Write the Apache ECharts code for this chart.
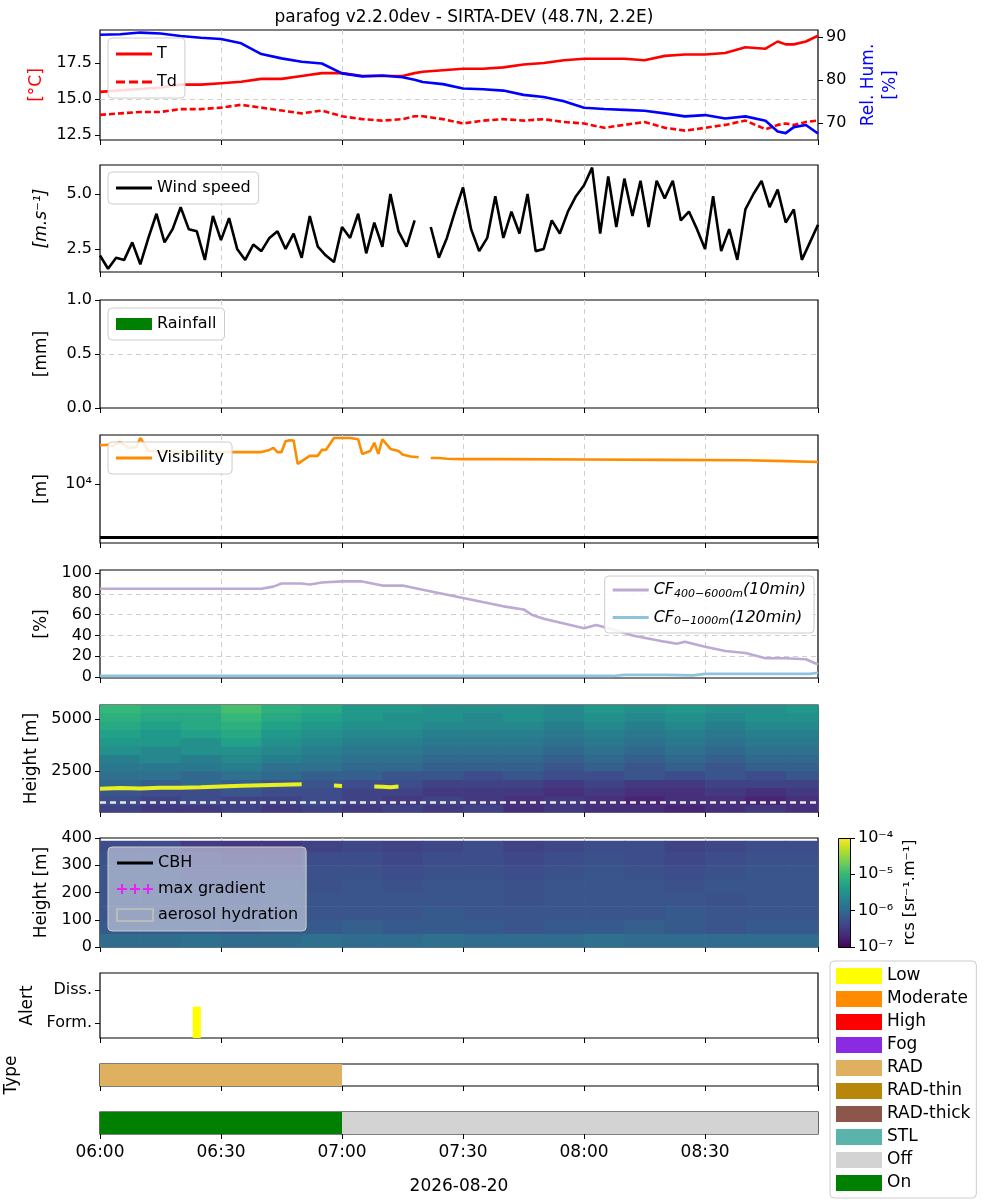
<!DOCTYPE html>
<html><head><meta charset="utf-8">
<script src="https://cdn.jsdelivr.net/npm/echarts@6/dist/echarts.min.js"></script>
<style>html,body{margin:0;padding:0;background:#fff}#c{width:1000px;height:1200px}</style>
</head><body><div id="c"></div>
<script>
// ---------- DATA (minutes after 06:00) ----------
const xTickLabels = ['06:00','06:30','07:00','07:30','08:00','08:30'];
const tTemp = [0,5,10,15,20,25,30,35,40,45,50,55,60,65,70,75,78,80,85,90,95,100,105,110,115,120,125,130,135,140,145,150,155,160,165,168,170,172,175,178];
const T  = [15.5,15.6,15.7,15.8,16.0,16.0,16.1,16.2,16.4,16.4,16.6,16.8,16.8,16.6,16.6,16.6,16.8,16.9,17.0,17.1,17.1,17.2,17.4,17.5,17.7,17.8,17.8,17.8,17.7,18.0,18.1,18.1,18.2,18.6,18.5,19.0,18.8,18.8,19.0,19.4];
const Td = [13.9,14.0,14.1,14.1,14.3,14.3,14.4,14.6,14.4,14.2,14.0,14.2,13.8,13.6,13.5,13.6,13.8,13.8,13.6,13.3,13.5,13.6,13.5,13.6,13.4,13.3,13.0,13.2,13.4,13.0,12.8,13.0,13.2,13.5,12.9,13.2,13.3,13.2,13.4,13.5];
const RH = [90.5,90.6,91.0,90.8,90.2,89.8,89.5,88.5,86.0,85.0,84.2,83.8,81.5,80.8,81.0,80.6,80.0,79.5,79.0,78.0,77.8,77.5,76.5,76.0,75.0,73.5,73.2,73.0,72.8,72.2,71.5,71.8,71.0,71.5,70.5,68.0,67.6,69.0,69.5,67.5];
const tWind = [0,2,4,6,8,10,12,14,16,18,20,22,24,26,28,30,32,34,36,38,40,42,44,46,48,50,52,54,56,58,60,62,64,66,68,70,72,74,76,78,80,82,84,86,88,90,92,94,96,98,100,102,104,106,108,110,112,114,116,118,120,122,124,126,128,130,132,134,136,138,140,142,144,146,148,150,152,154,156,158,160,162,164,166,168,170,172,174,176,178];
const wind = [2.2,1.6,2.1,2.0,2.8,1.8,3.0,4.1,2.8,3.4,4.4,3.4,3.3,2.0,4.0,2.9,3.9,2.5,2.0,2.7,2.4,3.0,3.3,2.5,3.2,2.1,4.0,2.6,2.2,1.9,3.5,3.0,4.1,2.3,3.7,2.6,5.0,3.3,2.6,3.8,null,3.5,2.1,3.0,4.2,5.3,3.4,2.4,3.0,4.9,3.0,4.2,3.2,5.0,2.4,2.5,3.8,3.2,4.2,4.9,5.4,6.2,3.2,5.8,3.5,5.7,4.0,5.6,3.5,5.6,4.8,5.6,3.8,4.2,3.4,2.5,4.9,2.4,3.4,2.0,4.3,5.0,5.6,4.4,5.2,3.7,4.3,2.0,2.8,3.6];
const tVis = [0,2,3,5,7,9,10,12,15,20,25,30,35,40,42,43,44,45,46,47,48,49,52,54,55,56,58,60,62,64,65,67,68,69,70,72,74,75,77,79,80,81,82,84,86,90,100,120,140,160,170,178];
const vis  = [54000,55000,52000,62000,48000,50000,74000,42000,41000,40000,40000,40000,40000,40000,44000,48000,40000,40000,64000,67000,66000,24000,34000,34000,44000,44000,74000,74000,74000,70000,37000,42000,60000,37000,70000,46000,42000,36000,33000,32000,null,null,31000,31000,30000,29500,29500,29000,28500,28000,27000,26000];
const visThreshold = 1000;
const tCF = [0,20,40,43,45,50,52,55,60,65,70,75,80,90,100,105,107,110,120,123,128,132,140,143,145,150,155,160,165,170,175,178];
const cfHigh = [85,85,85,87,90,90,89,91,92,92,88,88,84,76,68,65,60,56,47,50,45,40,34,32,34,29,25,23,18,18,17,12];
const tCFlow = [0,100,127,130,140,147,150,160,170,176,178];
const cfLow  = [1,1,1,2,2,1.5,3,3,3,3,4];
const tCloud = [0,5,10,15,20,25,30,35,40,45,50,52,54,56,58,60,62,64,66,68,70,72,74,76,78];
const cloudBase = [1650,1680,1660,1700,1690,1720,1760,1790,1820,1840,1860,null,null,null,1800,1780,null,null,null,1760,1740,1720,1750,null,null];
const hmTimes1 = [0,10,20,30,40,50,60,70,80,90,100,110,120,130,140,150,160,170,178];
const hmHeights1 = [530,900,1300,1700,2100,2500,2900,3300,3700,4100,4500,4900,5300,5670];
const rcsUpper = [
 [-6.4,-6.5,-6.5,-6.4,-6.5,-6.4,-6.5,-6.4,-6.5,-6.4,-6.6,-6.5,-6.6,-6.6,-6.7,-6.6,-6.5,-6.6],
 [-6.3,-6.4,-6.3,-6.4,-6.4,-6.3,-6.4,-6.5,-6.4,-6.5,-6.6,-6.5,-6.6,-6.7,-6.6,-6.6,-6.7,-6.6],
 [-6.2,-6.3,-6.3,-6.2,-6.3,-6.3,-6.4,-6.4,-6.5,-6.5,-6.5,-6.6,-6.5,-6.6,-6.6,-6.5,-6.6,-6.5],
 [-6.0,-6.1,-6.0,-6.1,-6.2,-6.2,-6.3,-6.3,-6.4,-6.4,-6.4,-6.5,-6.4,-6.5,-6.5,-6.4,-6.4,-6.4],
 [-5.9,-5.9,-6.0,-5.9,-6.0,-6.1,-6.1,-6.2,-6.2,-6.3,-6.2,-6.3,-6.3,-6.2,-6.3,-6.2,-6.3,-6.2],
 [-5.8,-5.8,-5.8,-5.7,-5.9,-5.9,-6.0,-6.0,-6.1,-6.1,-6.1,-6.2,-6.1,-6.2,-6.1,-6.2,-6.1,-6.1],
 [-5.7,-5.6,-5.7,-5.6,-5.7,-5.8,-5.9,-5.9,-6.0,-6.0,-6.0,-6.1,-6.0,-6.1,-6.0,-6.1,-6.0,-6.0],
 [-5.5,-5.6,-5.5,-5.5,-5.6,-5.7,-5.8,-5.8,-5.9,-5.9,-5.9,-6.0,-5.9,-6.0,-5.9,-6.0,-5.9,-5.9],
 [-5.4,-5.4,-5.5,-5.3,-5.5,-5.6,-5.7,-5.7,-5.8,-5.8,-5.8,-5.9,-5.8,-5.9,-5.8,-5.9,-5.8,-5.8],
 [-5.3,-5.4,-5.3,-5.2,-5.4,-5.5,-5.6,-5.6,-5.7,-5.7,-5.7,-5.8,-5.7,-5.8,-5.7,-5.8,-5.7,-5.7],
 [-5.2,-5.3,-5.2,-5.1,-5.3,-5.4,-5.5,-5.5,-5.6,-5.6,-5.6,-5.7,-5.6,-5.7,-5.6,-5.7,-5.6,-5.6],
 [-5.1,-5.2,-5.2,-5.0,-5.2,-5.3,-5.4,-5.5,-5.5,-5.6,-5.5,-5.6,-5.5,-5.6,-5.5,-5.6,-5.5,-5.5],
 [-5.0,-5.1,-5.1,-4.9,-5.1,-5.2,-5.4,-5.4,-5.5,-5.5,-5.5,-5.6,-5.4,-5.5,-5.4,-5.5,-5.5,-5.4]];
const hmHeights2 = [0,50,100,150,200,250,300,350,390];
const rcsLower = [
 [-5.95,-5.95,-5.9,-5.95,-5.95,-5.9,-5.95,-5.95,-5.9,-5.95,-5.95,-5.95,-5.9,-5.95,-5.95,-5.95,-5.95,-5.95],
 [-6.15,-6.15,-6.15,-6.2,-6.15,-6.15,-6.1,-6.15,-6.15,-6.15,-6.2,-6.15,-6.15,-6.1,-6.15,-6.2,-6.15,-6.15],
 [-6.2,-6.2,-6.2,-6.2,-6.2,-6.2,-6.2,-6.2,-6.15,-6.2,-6.2,-6.2,-6.2,-6.2,-6.15,-6.2,-6.2,-6.2],
 [-6.2,-6.2,-6.2,-6.25,-6.2,-6.2,-6.2,-6.2,-6.2,-6.2,-6.25,-6.2,-6.2,-6.2,-6.2,-6.25,-6.2,-6.2],
 [-6.2,-6.2,-6.25,-6.25,-6.2,-6.25,-6.2,-6.25,-6.2,-6.2,-6.25,-6.2,-6.2,-6.2,-6.25,-6.2,-6.2,-6.2],
 [-6.2,-6.2,-6.3,-6.3,-6.3,-6.25,-6.25,-6.3,-6.25,-6.25,-6.3,-6.25,-6.2,-6.25,-6.3,-6.25,-6.2,-6.2],
 [-6.25,-6.25,-6.35,-6.4,-6.4,-6.3,-6.3,-6.35,-6.3,-6.3,-6.35,-6.3,-6.25,-6.3,-6.35,-6.3,-6.25,-6.25],
 [-6.3,-6.3,-6.45,-6.5,-6.5,-6.4,-6.35,-6.4,-6.35,-6.3,-6.4,-6.35,-6.3,-6.3,-6.4,-6.35,-6.3,-6.3]];
const alertSpans = [[23,25]];
const typeSpans = [[0,60,'RAD']];
const onSpans = [[0,60,'On'],[60,178,'Off']];
const legendCats = ['Low','Moderate','High','Fog','RAD','RAD-thin','RAD-thick','STL','Off','On'];
const legendColors = ['#ffff00','#ff8c00','#ff0000','#8a2be2','#deb060','#b8860b','#8c564b','#5ab4ac','#d3d3d3','#008000'];
const viridis = ['#440154','#482878','#3e4989','#31688e','#26828e','#1f9e89','#35b779','#6ece58','#b5de2b','#fde725'];

// ---------- BUILD ----------
const pairs = (t,v)=>t.map((x,i)=>[x,v[i]]);
const F = 'DejaVu Sans';
const X0=100, W=718;
const panels = [[30,110],[165,107],[300,108],[435,108],[570,108],[705,107],[838,109],[973,65],[1064,22],[1112,22]];
const grids = panels.map(p=>({left:X0,width:W,top:p[0],height:p[1],show:true,borderColor:'#000',borderWidth:1.2,backgroundColor:'transparent',outerBoundsMode:'none',containLabel:false}));
grids.push({left:838,width:12,top:838,height:109,show:false,outerBoundsMode:'none'});
const fmtT = v=>{const h=6+Math.floor(v/60),m=v%60;return String(h).padStart(2,'0')+':'+String(m).padStart(2,'0');};
const SL = {show:true,showMinLine:false,showMaxLine:false,lineStyle:{type:[5,4],color:'#d0d0d0'}};
const xAxes = panels.map((p,i)=>({type:'value',gridIndex:i,min:0,max:178,interval:30,
  axisLine:{show:false,onZero:false},axisTick:{show:true,length:5,lineStyle:{color:'#000'}},
  axisLabel:{show:i===9,formatter:fmtT,fontFamily:F,fontSize:17,color:'#000',margin:10,showMaxLabel:false},
  splitLine:Object.assign({},SL,{show:i<7}),
  name:i===9?'2026-08-20':'',nameLocation:'middle',nameGap:44,nameTextStyle:{fontFamily:F,fontSize:17,color:'#000'}}));
xAxes.push({type:'value',gridIndex:10,show:false,min:0,max:1});
const ya = (gi,o)=>Object.assign({type:'value',gridIndex:gi,nameLocation:'middle',nameRotate:90,
  nameTextStyle:{fontFamily:F,fontSize:17,color:'#000'},axisLine:{show:false,onZero:false},
  axisTick:{show:true,length:5,lineStyle:{color:'#000'}},
  axisLabel:{fontFamily:F,fontSize:16,color:'#000'},
  splitLine:SL},o);
const cv = (arr,fmt)=>({axisLabel:{customValues:arr,formatter:fmt,fontFamily:F,fontSize:16,color:'#000'},axisTick:{customValues:arr,length:5,lineStyle:{color:'#000'}}});
const yAxes = [
 ya(0,Object.assign({min:12.15,max:19.8,name:'[°C]',nameGap:55,nameTextStyle:{fontFamily:F,fontSize:17,color:'#ff0000'}},cv([12.5,15,17.5],v=>v.toFixed(1)))),
 ya(0,Object.assign({min:66,max:91.6,position:'right',name:'Rel. Hum.\n[%]',nameGap:34,nameTextStyle:{fontFamily:F,fontSize:17,color:'#0000ff',lineHeight:22},splitLine:{show:false}},cv([70,80,90],v=>v))),
 ya(1,Object.assign({min:1.45,max:6.32,name:'[m.s⁻¹]',nameGap:50,nameTextStyle:{fontFamily:F,fontSize:17,fontStyle:'italic',color:'#000'}},cv([2.5,5],v=>v.toFixed(1)))),
 ya(2,{min:0,max:1,interval:0.5,name:'[mm]',nameGap:50,axisLabel:{formatter:v=>v.toFixed(1),fontFamily:F,fontSize:16,color:'#000'}}),
 ya(3,Object.assign({min:2.887,max:4.925,name:'[m]',nameGap:50},cv([4],v=>'10⁴'))),
 ya(4,Object.assign({min:-1,max:103,name:'[%]',nameGap:50},cv([0,20,40,60,80,100],v=>v))),
 ya(5,Object.assign({min:530,max:5670,name:'Height [m]',nameGap:55},cv([2500,5000],v=>v))),
 ya(6,{min:0,max:400,interval:100,name:'Height [m]',nameGap:50,splitLine:{show:true,showMinLine:false,showMaxLine:false,lineStyle:{type:[5,4],color:'rgba(200,200,200,0.5)'}}}),
 ya(7,Object.assign({min:-0.45,max:1.52,name:'Alert',nameGap:62,splitLine:{show:false}},cv([0,1],v=>v===0?'Form.':'Diss.'))),
 ya(8,{min:0,max:1,name:'Type',nameGap:80,axisLabel:{show:false},axisTick:{show:false},splitLine:{show:false}}),
 ya(9,{min:0,max:1,axisLabel:{show:false},axisTick:{show:false},splitLine:{show:false}}),
 ya(10,{min:-7,max:-4,interval:1,position:'right',splitLine:{show:false},name:'rcs [sr⁻¹.m⁻¹]',nameGap:52,
   nameTextStyle:{fontFamily:F,fontSize:16,color:'#000'},
   axisLabel:{formatter:v=>'10'+({'-7':'⁻⁷','-6':'⁻⁶','-5':'⁻⁵','-4':'⁻⁴'})[v],fontFamily:F,fontSize:16,color:'#000'}})
];
function cells(times,heights,grid){const out=[];grid.forEach((row,r)=>row.forEach((v,c)=>out.push([times[c],times[c+1],heights[r],heights[r+1],v])));return out;}
const rectItem = (params,api)=>{const p0=api.coord([api.value(0),api.value(2)]),p1=api.coord([api.value(1),api.value(3)]);
  return {type:'rect',shape:{x:p0[0],y:p1[1],width:p1[0]-p0[0]+0.6,height:p0[1]-p1[1]+0.6},style:{fill:api.visual('color')}};};
const lw = 2.6;
const ln = (o)=>Object.assign({type:'line',showSymbol:false,symbol:'none'},o);
const series = [
 ln({name:'T',xAxisIndex:0,yAxisIndex:0,data:pairs(tTemp,T),lineStyle:{color:'#ff0000',width:lw},itemStyle:{color:'#ff0000'}}),
 ln({name:'Td',xAxisIndex:0,yAxisIndex:0,data:pairs(tTemp,Td),lineStyle:{color:'#ff0000',width:lw,type:[6,3]},itemStyle:{color:'#ff0000'}}),
 ln({name:'RH',xAxisIndex:0,yAxisIndex:1,data:pairs(tTemp,RH),lineStyle:{color:'#0000ff',width:lw},itemStyle:{color:'#0000ff'}}),
 ln({name:'Wind speed',xAxisIndex:1,yAxisIndex:2,data:pairs(tWind,wind),lineStyle:{color:'#000',width:lw},itemStyle:{color:'#000'}}),
 {name:'Rainfall',type:'bar',xAxisIndex:2,yAxisIndex:3,data:[],itemStyle:{color:'#008000'}},
 ln({name:'Visibility',xAxisIndex:3,yAxisIndex:4,data:tVis.map((t,i)=>[t,vis[i]==null?null:Math.log10(vis[i])]),lineStyle:{color:'#ff8c00',width:lw},itemStyle:{color:'#ff8c00'},
   markLine:{silent:true,symbol:'none',label:{show:false},lineStyle:{color:'#000',width:3,type:'solid'},data:[{yAxis:Math.log10(visThreshold)}]}}),
 ln({name:'CFhigh',xAxisIndex:4,yAxisIndex:5,data:pairs(tCF,cfHigh),lineStyle:{color:'#bca9d4',width:lw},itemStyle:{color:'#bca9d4'}}),
 ln({name:'CFlow',xAxisIndex:4,yAxisIndex:5,data:pairs(tCFlow,cfLow),lineStyle:{color:'#8ec3dc',width:lw},itemStyle:{color:'#8ec3dc'}}),
 {name:'rcsU',type:'custom',xAxisIndex:5,yAxisIndex:6,data:cells(hmTimes1,hmHeights1,rcsUpper),renderItem:rectItem,encode:{x:[0,1],y:[2,3]},z:1},
 ln({name:'cloud',xAxisIndex:5,yAxisIndex:6,data:pairs(tCloud,cloudBase),lineStyle:{color:'#e8f020',width:4},z:3,
   markLine:{silent:true,symbol:'none',label:{show:false},lineStyle:{color:'#e8e8e8',width:2.5,type:[6,4]},data:[{yAxis:1000}]}}),
 {name:'rcsL',type:'custom',xAxisIndex:6,yAxisIndex:7,data:cells(hmTimes1,hmHeights2,rcsLower),renderItem:rectItem,encode:{x:[0,1],y:[2,3]},z:1},
 ln({name:'CBH',xAxisIndex:6,yAxisIndex:7,data:[],itemStyle:{color:'#000'},lineStyle:{color:'#000',width:lw}}),
 {name:'max gradient',type:'scatter',xAxisIndex:6,yAxisIndex:7,data:[],itemStyle:{color:'#ff00ff'}},
 {name:'aerosol hydration',type:'bar',xAxisIndex:6,yAxisIndex:7,data:[],itemStyle:{color:'rgba(255,255,255,0)',borderColor:'#bbbbbb',borderWidth:2}},
 ln({name:'alert',xAxisIndex:7,yAxisIndex:8,data:[],
   markArea:{silent:true,itemStyle:{color:'#ffff00'},data:alertSpans.map(s=>[{coord:[s[0],-0.45]},{coord:[s[1],0.5]}])}}),
 ln({name:'type',xAxisIndex:8,yAxisIndex:9,data:[],
   markArea:{silent:true,data:typeSpans.map(s=>[{coord:[s[0],0],itemStyle:{color:legendColors[legendCats.indexOf(s[2])]}},{coord:[s[1],1]}])}}),
 ln({name:'onoff',xAxisIndex:9,yAxisIndex:10,data:[],
   markArea:{silent:true,data:onSpans.map(s=>[{coord:[s[0],0],itemStyle:{color:legendColors[legendCats.indexOf(s[2])]}},{coord:[s[1],1]}])}})
];
legendCats.forEach((c,i)=>series.push({name:c,type:'bar',xAxisIndex:7,yAxisIndex:8,data:[],itemStyle:{color:legendColors[i]}}));
const LINE_ICON = 'path://M0,0h36v3h-36z';
const DASH_ICON = 'path://M0,0h9v3h-9zM13,0h9v3h-9zM26,0h10v3h-10z';
const lgBase = {orient:'vertical',backgroundColor:'rgba(255,255,255,0.85)',borderColor:'#cccccc',borderWidth:1,borderRadius:4,
  textStyle:{fontFamily:F,fontSize:16,color:'#000',lineHeight:20},itemWidth:36,itemHeight:3,itemGap:8,padding:[6,8,6,8]};
const legends = [
 Object.assign({},lgBase,{left:108,top:38,data:[{name:'T',icon:LINE_ICON},{name:'Td',icon:DASH_ICON}],itemGap:8}),
 Object.assign({},lgBase,{left:108,top:172,data:[{name:'Wind speed',icon:LINE_ICON}]}),
 Object.assign({},lgBase,{left:108,top:308,data:['Rainfall'],icon:'rect',itemHeight:12}),
 Object.assign({},lgBase,{left:108,top:442,data:[{name:'Visibility',icon:LINE_ICON}]}),
 Object.assign({},lgBase,{right:186,top:576,data:[{name:'CFhigh',icon:LINE_ICON},{name:'CFlow',icon:LINE_ICON}],itemGap:10,
   formatter:n=>n==='CFhigh'?'{i|CF}{s|400−6000m}{i|(10min)}':'{i|CF}{s|0−1000m}{i|(120min)}',
   textStyle:{fontFamily:F,fontSize:16,color:'#000',rich:{i:{fontFamily:F,fontSize:16,fontStyle:'italic'},s:{fontFamily:F,fontSize:11,fontStyle:'italic',padding:[8,0,0,0]}}}}),
 Object.assign({},lgBase,{left:108,top:847,data:[
   {name:'CBH',icon:LINE_ICON},
   {name:'max gradient',icon:'path://M0,4h10v2h-10zM4,0h2v10h-2zM13,4h10v2h-10zM17,0h2v10h-2zM26,4h10v2h-10zM30,0h2v10h-2z'},
   {name:'aerosol hydration',icon:'rect'}],
   backgroundColor:'rgba(230,230,240,0.55)',itemGap:6,itemHeight:12}),
 Object.assign({},lgBase,{left:830,top:961,data:legendCats,
   icon:'rect',itemWidth:46,itemHeight:16,itemGap:3,textStyle:{fontFamily:F,fontSize:17,color:'#000',lineHeight:20},padding:[5,6,5,6],backgroundColor:'#fff'})
];
const chart = echarts.init(document.getElementById('c'),null,{renderer:'canvas'});
chart.setOption({
 animation:false,
 title:{text:'parafog v2.2.0dev - SIRTA-DEV (48.7N, 2.2E)',left:459,top:4,textAlign:'center',textStyle:{fontFamily:F,fontSize:17,fontWeight:'normal',color:'#000'}},
 grid:grids,xAxis:xAxes,yAxis:yAxes,series:series,legend:legends,
 visualMap:[{type:'continuous',show:false,min:-7,max:-4,dimension:4,seriesIndex:[8,10],inRange:{color:viridis}}],
 graphic:[{type:'rect',left:838,top:838,shape:{width:12,height:109},z:10,
   style:{stroke:'#000',lineWidth:1,fill:new echarts.graphic.LinearGradient(0,1,0,0,viridis.map((c,i)=>({offset:i/(viridis.length-1),color:c})))}}]
});
</script></body></html>
